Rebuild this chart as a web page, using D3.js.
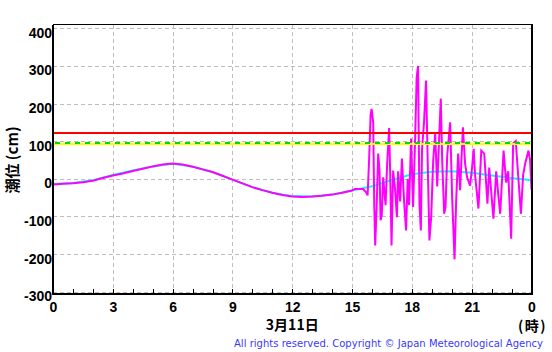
<!DOCTYPE html>
<html>
<head>
<meta charset="utf-8">
<script src="https://cdn.jsdelivr.net/npm/d3@7"></script>
<style>
  body { margin: 0; background: #fff; }
  svg { display: block; }
  line { shape-rendering: crispEdges; }
</style>
</head>
<body>
<div id="graph"></div>
<script>
// observed tide level (cm), hour of day on 3/11
var obsHours = [0, 0.5, 1, 1.5, 2, 2.5, 3, 3.5, 4, 4.5, 5, 5.5, 6, 6.5, 7, 7.5, 8, 8.5, 9, 9.5,
    10, 10.5, 11, 11.5, 12, 12.5, 13, 13.5, 14, 14.5, 15, 15.15, 15.55, 15.70, 15.78, 15.86,
    15.93, 15.98, 16.06, 16.11, 16.16, 16.23, 16.31, 16.38, 16.43, 16.49, 16.56, 16.68, 16.76, 16.86,
    16.91, 16.98, 17.06, 17.16, 17.25, 17.31, 17.41, 17.50, 17.61, 17.71, 17.79, 17.86, 17.96, 18.06,
    18.16, 18.24, 18.31, 18.38, 18.45, 18.51, 18.61, 18.71, 18.82, 18.88, 18.97, 19.07, 19.17, 19.27,
    19.45, 19.52, 19.62, 19.69, 19.77, 19.92, 20.02, 20.14, 20.22, 20.32, 20.42, 20.56, 20.67, 20.77,
    20.92, 21.02, 21.10, 21.17, 21.34, 21.48, 21.63, 21.79, 21.88, 22.09, 22.23, 22.33, 22.43, 22.60,
    22.73, 22.83, 22.98, 23.08, 23.21, 23.33, 23.47, 23.58, 23.68, 23.85, 23.93, 24.0];
var obsLevels = [-15, -13, -12, -9, -5, 2, 9, 14, 21, 27, 33, 38, 41, 38, 32, 25, 18, 8, -2, -12,
    -22, -30, -37, -43, -47, -48, -47, -45, -42, -37, -31, -27, -27, -35, -44, 57,
    170, 186, 150, -60, -177, -80, 67, 20, -110, -97, 4, -70, 40, 135,
    20, -177, 22, -30, -102, 20, -60, 54, -60, -137, 0, -70, 107, -75,
    100, 270, 300, -66, -137, 80, 150, 261, -20, -164, -100, 49, 120, -20,
    213, 50, -93, -75, 60, 150, -50, -214, -60, 67, -30, 137, 40, 4,
    -18, 30, 80, 10, -79, 75, 67, -66, 30, -106, 20, -40, -93, 75,
    -10, 20, -159, 94, 100, 10, -93, 10, 40, 75, 50, -29];

// predicted (astronomical) tide
var predHours = [0, 1, 2, 3, 4, 5, 6, 7, 8, 9, 10, 11, 12, 13, 14, 15, 16, 17, 18, 19, 20, 21, 22, 23, 24];
var predLevels = [-14, -11, -4, 10, 22, 33, 40, 33, 18, -2, -22, -37, -46, -47, -42, -31, -20, -3, 12, 19, 20, 16, 9, 2, -4];

// reference levels
var redLevel = 122;
var greenLevel = 95;
var yellowLevel = 92;

var yTicks = [400, 300, 200, 100, 0, -100, -200, -300];
var xTicks = [0, 3, 6, 9, 12, 15, 18, 21, 24];
var xTickLabels = ["0", "3", "6", "9", "12", "15", "18", "21", "0"];
var minorTicks = d3.range(0, 25);

function drawChart() {
    var W = 552, H = 352;
    var pLeft = 53, pRight = 532, pTop = 24.5, pBottom = 294;

    var x = d3.scaleLinear().domain([0, 24]).range([pLeft, 531.5]);
    var y = d3.scaleLinear().domain([-300, 400]).range([291.7, 28.3]);

    var svg = d3.select("#graph").append("svg")
        .attr("width", W)
        .attr("height", H);

    svg.append("defs").append("clipPath").attr("id", "plot")
        .append("rect")
        .attr("x", pLeft).attr("y", pTop)
        .attr("width", pRight - pLeft).attr("height", pBottom - pTop);

    // grid
    svg.append("g").selectAll("line")
        .data(yTicks)
        .enter().append("line")
        .attr("x1", pLeft).attr("x2", pRight)
        .attr("y1", function (d) { return Math.round(y(d)) + 0.5; })
        .attr("y2", function (d) { return Math.round(y(d)) + 0.5; })
        .attr("stroke", "#bdbdbd")
        .attr("stroke-dasharray", "4,3");

    svg.append("g").selectAll("line")
        .data(xTicks.slice(1, -1))
        .enter().append("line")
        .attr("y1", pTop).attr("y2", pBottom)
        .attr("x1", function (d) { return Math.round(x(d)) + 0.5; })
        .attr("x2", function (d) { return Math.round(x(d)) + 0.5; })
        .attr("stroke", "#bdbdbd")
        .attr("stroke-dasharray", "4,3");

    var plot = svg.append("g").attr("clip-path", "url(#plot)");

    var pred = predHours.map(function (h, i) { return [h, predLevels[i]]; });
    var obs = obsHours.map(function (h, i) { return [h, obsLevels[i]]; });

    var line = d3.line()
        .x(function (d) { return x(d[0]); })
        .y(function (d) { return y(d[1]); });

    // predicted tide
    plot.append("path")
        .datum(pred)
        .attr("d", line)
        .attr("fill", "none")
        .attr("stroke", "#00ffff")
        .attr("stroke-width", 2);

    // observed tide
    plot.append("path")
        .datum(obs)
        .attr("d", line)
        .attr("fill", "none")
        .attr("stroke", "#ff00ff")
        .attr("stroke-width", 2);

    // reference levels
    plot.append("line")
        .attr("x1", pLeft).attr("x2", pRight)
        .attr("y1", y(yellowLevel)).attr("y2", y(yellowLevel))
        .attr("stroke", "#ffff00").attr("stroke-width", 2.5);

    plot.append("line")
        .attr("x1", pLeft + 2).attr("x2", pRight)
        .attr("y1", y(greenLevel)).attr("y2", y(greenLevel))
        .attr("stroke", "#00dd00").attr("stroke-width", 2.5)
        .attr("stroke-dasharray", "5,5");

    plot.append("line")
        .attr("x1", pLeft).attr("x2", pRight)
        .attr("y1", y(redLevel)).attr("y2", y(redLevel))
        .attr("stroke", "#ff0000").attr("stroke-width", 2.5);

    // hour ticks
    svg.append("g").selectAll("line")
        .data(minorTicks)
        .enter().append("line")
        .attr("x1", function (d) { return Math.round(x(d)) + 0.5; })
        .attr("x2", function (d) { return Math.round(x(d)) + 0.5; })
        .attr("y1", pBottom - 5).attr("y2", pBottom)
        .attr("stroke", "#000");

    // frame
    svg.append("line").attr("x1", pLeft).attr("x2", pRight).attr("y1", pTop).attr("y2", pTop)
        .attr("stroke", "#000").attr("stroke-width", 1);
    svg.append("line").attr("x1", pLeft).attr("x2", pLeft).attr("y1", pTop).attr("y2", pBottom + 1)
        .attr("stroke", "#000").attr("stroke-width", 1.5);
    svg.append("line").attr("x1", pRight).attr("x2", pRight).attr("y1", pTop - 0.5).attr("y2", pBottom + 1)
        .attr("stroke", "#000").attr("stroke-width", 2);
    svg.append("line").attr("x1", pLeft).attr("x2", pRight + 1).attr("y1", pBottom).attr("y2", pBottom)
        .attr("stroke", "#000").attr("stroke-width", 2);

    var tickFont = "'Liberation Sans', Arial, sans-serif";

    // y labels
    svg.append("g").selectAll("text")
        .data(yTicks)
        .enter().append("text")
        .attr("x", pLeft - 1)
        .attr("y", function (d) { return y(d) + 9.5; })
        .attr("text-anchor", "end")
        .attr("font-family", tickFont)
        .attr("font-weight", "bold")
        .attr("font-size", 14)
        .text(function (d) { return d; });

    // x labels
    svg.append("g").selectAll("text")
        .data(xTicks)
        .enter().append("text")
        .attr("x", function (d) { return x(d) + 0.5; })
        .attr("y", 312)
        .attr("text-anchor", "middle")
        .attr("font-family", tickFont)
        .attr("font-weight", "bold")
        .attr("font-size", 14)
        .text(function (d, i) { return xTickLabels[i]; });

    var cjk = "'Noto Sans CJK JP', sans-serif";

    svg.append("text")
        .attr("x", x(12))
        .attr("y", 330)
        .attr("text-anchor", "middle")
        .attr("font-family", cjk)
        .attr("font-weight", "bold")
        .attr("font-size", 14)
        .text("3月11日");

    svg.append("text")
        .attr("x", 547)
        .attr("y", 331)
        .attr("text-anchor", "end")
        .attr("font-family", cjk)
        .attr("font-weight", "bold")
        .attr("font-size", 14)
        .attr("letter-spacing", 1.5)
        .text("(時)");

    // y title
    svg.append("text")
        .attr("transform", "translate(18,160) rotate(-90)")
        .attr("text-anchor", "middle")
        .attr("font-family", cjk)
        .attr("font-weight", "bold")
        .attr("font-size", 15)
        .text("潮位 (cm)");

    svg.append("text")
        .attr("x", 234)
        .attr("y", 347)
        .attr("font-family", "'DejaVu Sans', Verdana, sans-serif")
        .attr("font-size", 10)
        .attr("fill", "#3a3af5")
        .attr("textLength", 309)
        .attr("lengthAdjust", "spacing")
        .text("All rights reserved. Copyright © Japan Meteorological Agency");
}

drawChart();
</script>
</body>
</html>
